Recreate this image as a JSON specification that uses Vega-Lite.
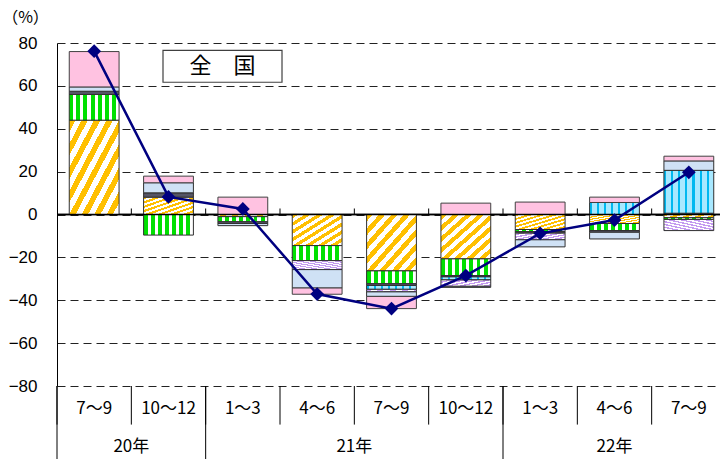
{
 "$schema": "https://vega.github.io/schema/vega-lite/v6.json",
 "autosize": {"type": "none"},
 "padding": {"left": 57, "top": 43, "right": -6, "bottom": 73},
 "width": 669,
 "height": 343,
 "background": "#ffffff",
 "config": {"view": {"stroke": null}},
 "datasets": {
  "bars": [
   {"key": "20年7～9", "s": "s1", "o": 1, "v": 44},
   {"key": "20年7～9", "s": "s2", "o": 2, "v": 12},
   {"key": "20年7～9", "s": "s3", "o": 3, "v": 1.5},
   {"key": "20年7～9", "s": "s6", "o": 6, "v": 2},
   {"key": "20年7～9", "s": "s7", "o": 7, "v": 16.5},
   {"key": "20年10～12", "s": "s1", "o": 1, "v": 8.1},
   {"key": "20年10～12", "s": "s2", "o": 2, "v": -9.6},
   {"key": "20年10～12", "s": "s3", "o": 3, "v": 2},
   {"key": "20年10～12", "s": "s6", "o": 6, "v": 4.7},
   {"key": "20年10～12", "s": "s7", "o": 7, "v": 3.1},
   {"key": "21年1～3", "s": "s1", "o": 1, "v": -1},
   {"key": "21年1～3", "s": "s2", "o": 2, "v": -2.4},
   {"key": "21年1～3", "s": "s3", "o": 3, "v": -0.8},
   {"key": "21年1～3", "s": "s6", "o": 6, "v": -1},
   {"key": "21年1～3", "s": "s7", "o": 7, "v": 8.1},
   {"key": "21年4～6", "s": "s1", "o": 1, "v": -14.5},
   {"key": "21年4～6", "s": "s2", "o": 2, "v": -7},
   {"key": "21年4～6", "s": "s5", "o": 5, "v": -4.2},
   {"key": "21年4～6", "s": "s6", "o": 6, "v": -8.6},
   {"key": "21年4～6", "s": "s7", "o": 7, "v": -2.9},
   {"key": "21年7～9", "s": "s1", "o": 1, "v": -26.3},
   {"key": "21年7～9", "s": "s2", "o": 2, "v": -6},
   {"key": "21年7～9", "s": "s3", "o": 3, "v": -0.8},
   {"key": "21年7～9", "s": "s4", "o": 4, "v": -1.8},
   {"key": "21年7～9", "s": "s5", "o": 5, "v": -1.2},
   {"key": "21年7～9", "s": "s6", "o": 6, "v": -2.1},
   {"key": "21年7～9", "s": "s7", "o": 7, "v": -5.7},
   {"key": "21年10～12", "s": "s1", "o": 1, "v": -20.7},
   {"key": "21年10～12", "s": "s2", "o": 2, "v": -7.8},
   {"key": "21年10～12", "s": "s3", "o": 3, "v": -0.6},
   {"key": "21年10～12", "s": "s4", "o": 4, "v": -1.4},
   {"key": "21年10～12", "s": "s5", "o": 5, "v": -3},
   {"key": "21年10～12", "s": "s6", "o": 6, "v": -0.5},
   {"key": "21年10～12", "s": "s7", "o": 7, "v": 5.3},
   {"key": "22年1～3", "s": "s1", "o": 1, "v": -7},
   {"key": "22年1～3", "s": "s2", "o": 2, "v": -1},
   {"key": "22年1～3", "s": "s3", "o": 3, "v": -0.7},
   {"key": "22年1～3", "s": "s5", "o": 5, "v": -3.1},
   {"key": "22年1～3", "s": "s6", "o": 6, "v": -3.3},
   {"key": "22年1～3", "s": "s7", "o": 7, "v": 5.8},
   {"key": "22年4～6", "s": "s1", "o": 1, "v": -4.2},
   {"key": "22年4～6", "s": "s2", "o": 2, "v": -3.3},
   {"key": "22年4～6", "s": "s3", "o": 3, "v": -0.8},
   {"key": "22年4～6", "s": "s4", "o": 4, "v": 5.6},
   {"key": "22年4～6", "s": "s6", "o": 6, "v": -3.1},
   {"key": "22年4～6", "s": "s7", "o": 7, "v": 2.5},
   {"key": "22年7～9", "s": "s1", "o": 1, "v": -1.5},
   {"key": "22年7～9", "s": "s2", "o": 2, "v": -0.8},
   {"key": "22年7～9", "s": "s3", "o": 3, "v": 0.6},
   {"key": "22年7～9", "s": "s4", "o": 4, "v": 20},
   {"key": "22年7～9", "s": "s5", "o": 5, "v": -5.2},
   {"key": "22年7～9", "s": "s6", "o": 6, "v": 4.4},
   {"key": "22年7～9", "s": "s7", "o": 7, "v": 2.2}
  ],
  "totals": [
   {"key": "20年7～9", "total": 76.2},
   {"key": "20年10～12", "total": 8.2},
   {"key": "21年1～3", "total": 2.6},
   {"key": "21年4～6", "total": -37.1},
   {"key": "21年7～9", "total": -43.9},
   {"key": "21年10～12", "total": -28.5},
   {"key": "22年1～3", "total": -8.8},
   {"key": "22年4～6", "total": -2.6},
   {"key": "22年7～9", "total": 19.7}
  ],
  "cats": [
   {"key": "20年7～9"}, {"key": "20年10～12"}, {"key": "21年1～3"}, {"key": "21年4～6"}, {"key": "21年7～9"},
   {"key": "21年10～12"}, {"key": "22年1～3"}, {"key": "22年4～6"}, {"key": "22年7～9"}
  ],
  "yearStarts": [{"key": "20年7～9"}, {"key": "21年1～3"}, {"key": "22年1～3"}],
  "years": [
   {"year": "20年", "at": "20年10～12", "mid": false},
   {"year": "21年", "at": "21年7～9", "mid": false},
   {"year": "22年", "at": "22年4～6", "mid": true}
  ],
  "box": [{"label": "全　国"}]
 },
 "encoding": {
  "x": {"field": "key", "type": "nominal",
   "scale": {"type": "band", "domain": ["20年7～9","20年10～12","21年1～3","21年4～6","21年7～9","21年10～12","22年1～3","22年4～6","22年7～9"], "paddingInner": 0, "paddingOuter": 0},
   "axis": {"title": null, "domain": false, "ticks": false, "grid": false, "labelAngle": 0,
    "labelExpr": "split(datum.label, '年')[1]", "labelFont": "Noto Sans CJK JP", "labelFontSize": 17, "labelColor": "#000000", "labelPadding": 14}}
 },
 "layer": [
  {
   "data": {"values": [{}]},
   "mark": {"type": "rule", "color": "#000000", "strokeWidth": 1.5},
   "encoding": {
    "x": null,
    "y": {"datum": 0, "type": "quantitative",
     "scale": {"domain": [-80, 80], "nice": false, "zero": false},
     "axis": {"values": [-80,-60,-40,-20,0,20,40,60,80], "grid": true, "gridDash": [8,5], "gridColor": "#222222", "gridOpacity": 1, "gridWidth": 1,
      "domain": true, "domainColor": "#000000", "domainWidth": 1, "ticks": false,
      "labelFont": "Liberation Sans", "labelFontSize": 17, "labelColor": "#000000", "labelPadding": 20,
      "title": "（%）", "titleAngle": 0, "titleFont": "Noto Sans CJK JP", "titleFontSize": 16, "titleFontWeight": "normal", "titleColor": "#000000",
      "titleX": -32, "titleY": -26, "titleAlign": "center", "titleBaseline": "middle"}}
   }
  },
  {
   "data": {"name": "bars"},
   "transform": [{"stack": "v", "groupby": ["key"], "sort": [{"field": "o", "order": "ascending"}], "as": ["v0", "v1"]}],
   "encoding": {
    "y": {"field": "v0", "type": "quantitative"},
    "y2": {"field": "v1"}
   },
   "layer": [
    {"transform": [{"filter": "datum.s === 's1'"}],
     "mark": {"type": "bar", "width": {"band": 0.67}, "stroke": "#303030", "strokeWidth": 1,
      "fill": {"gradient": "linear", "x1": 0, "y1": 0, "x2": 1, "y2": 1, "stops": [
       {"offset": 0, "color": "#FFC000"}, {"offset": 0.0625, "color": "#FFC000"}, {"offset": 0.0625, "color": "#FFFFFF"}, {"offset": 0.125, "color": "#FFFFFF"},
       {"offset": 0.125, "color": "#FFC000"}, {"offset": 0.1875, "color": "#FFC000"}, {"offset": 0.1875, "color": "#FFFFFF"}, {"offset": 0.25, "color": "#FFFFFF"},
       {"offset": 0.25, "color": "#FFC000"}, {"offset": 0.3125, "color": "#FFC000"}, {"offset": 0.3125, "color": "#FFFFFF"}, {"offset": 0.375, "color": "#FFFFFF"},
       {"offset": 0.375, "color": "#FFC000"}, {"offset": 0.4375, "color": "#FFC000"}, {"offset": 0.4375, "color": "#FFFFFF"}, {"offset": 0.5, "color": "#FFFFFF"},
       {"offset": 0.5, "color": "#FFC000"}, {"offset": 0.5625, "color": "#FFC000"}, {"offset": 0.5625, "color": "#FFFFFF"}, {"offset": 0.625, "color": "#FFFFFF"},
       {"offset": 0.625, "color": "#FFC000"}, {"offset": 0.6875, "color": "#FFC000"}, {"offset": 0.6875, "color": "#FFFFFF"}, {"offset": 0.75, "color": "#FFFFFF"},
       {"offset": 0.75, "color": "#FFC000"}, {"offset": 0.8125, "color": "#FFC000"}, {"offset": 0.8125, "color": "#FFFFFF"}, {"offset": 0.875, "color": "#FFFFFF"},
       {"offset": 0.875, "color": "#FFC000"}, {"offset": 0.9375, "color": "#FFC000"}, {"offset": 0.9375, "color": "#FFFFFF"}, {"offset": 1, "color": "#FFFFFF"}]}}},
    {"transform": [{"filter": "datum.s === 's2'"}],
     "mark": {"type": "bar", "width": {"band": 0.67}, "stroke": "#303030", "strokeWidth": 1,
      "fill": {"gradient": "linear", "x1": 0, "y1": 0, "x2": 1, "y2": 0, "stops": [
       {"offset": 0, "color": "#00E000"}, {"offset": 0.0786, "color": "#00E000"}, {"offset": 0.0786, "color": "#FFFFFF"}, {"offset": 0.1429, "color": "#FFFFFF"},
       {"offset": 0.1429, "color": "#00E000"}, {"offset": 0.2214, "color": "#00E000"}, {"offset": 0.2214, "color": "#FFFFFF"}, {"offset": 0.2857, "color": "#FFFFFF"},
       {"offset": 0.2857, "color": "#00E000"}, {"offset": 0.3643, "color": "#00E000"}, {"offset": 0.3643, "color": "#FFFFFF"}, {"offset": 0.4286, "color": "#FFFFFF"},
       {"offset": 0.4286, "color": "#00E000"}, {"offset": 0.5071, "color": "#00E000"}, {"offset": 0.5071, "color": "#FFFFFF"}, {"offset": 0.5714, "color": "#FFFFFF"},
       {"offset": 0.5714, "color": "#00E000"}, {"offset": 0.65, "color": "#00E000"}, {"offset": 0.65, "color": "#FFFFFF"}, {"offset": 0.7143, "color": "#FFFFFF"},
       {"offset": 0.7143, "color": "#00E000"}, {"offset": 0.7929, "color": "#00E000"}, {"offset": 0.7929, "color": "#FFFFFF"}, {"offset": 0.8571, "color": "#FFFFFF"},
       {"offset": 0.8571, "color": "#00E000"}, {"offset": 0.9357, "color": "#00E000"}, {"offset": 0.9357, "color": "#FFFFFF"}, {"offset": 1, "color": "#FFFFFF"}]}}},
    {"transform": [{"filter": "datum.s === 's3'"}],
     "mark": {"type": "bar", "width": {"band": 0.67}, "stroke": "#303030", "strokeWidth": 1, "fill": "#555566"}},
    {"transform": [{"filter": "datum.s === 's4'"}],
     "mark": {"type": "bar", "width": {"band": 0.67}, "stroke": "#303030", "strokeWidth": 1,
      "fill": {"gradient": "linear", "x1": 0, "y1": 0, "x2": 1, "y2": 0, "stops": [
       {"offset": 0, "color": "#00B8F0"}, {"offset": 0.0429, "color": "#00B8F0"}, {"offset": 0.0429, "color": "#A8E8FF"}, {"offset": 0.1429, "color": "#A8E8FF"},
       {"offset": 0.1429, "color": "#00B8F0"}, {"offset": 0.1857, "color": "#00B8F0"}, {"offset": 0.1857, "color": "#A8E8FF"}, {"offset": 0.2857, "color": "#A8E8FF"},
       {"offset": 0.2857, "color": "#00B8F0"}, {"offset": 0.3286, "color": "#00B8F0"}, {"offset": 0.3286, "color": "#A8E8FF"}, {"offset": 0.4286, "color": "#A8E8FF"},
       {"offset": 0.4286, "color": "#00B8F0"}, {"offset": 0.4714, "color": "#00B8F0"}, {"offset": 0.4714, "color": "#A8E8FF"}, {"offset": 0.5714, "color": "#A8E8FF"},
       {"offset": 0.5714, "color": "#00B8F0"}, {"offset": 0.6143, "color": "#00B8F0"}, {"offset": 0.6143, "color": "#A8E8FF"}, {"offset": 0.7143, "color": "#A8E8FF"},
       {"offset": 0.7143, "color": "#00B8F0"}, {"offset": 0.7571, "color": "#00B8F0"}, {"offset": 0.7571, "color": "#A8E8FF"}, {"offset": 0.8571, "color": "#A8E8FF"},
       {"offset": 0.8571, "color": "#00B8F0"}, {"offset": 0.9, "color": "#00B8F0"}, {"offset": 0.9, "color": "#A8E8FF"}, {"offset": 1, "color": "#A8E8FF"}]}}},
    {"transform": [{"filter": "datum.s === 's5'"}],
     "mark": {"type": "bar", "width": {"band": 0.67}, "stroke": "#303030", "strokeWidth": 1,
      "fill": {"gradient": "linear", "x1": 0, "y1": 1, "x2": 1, "y2": 0, "stops": [
       {"offset": 0, "color": "#C49AF0"}, {"offset": 0.0625, "color": "#C49AF0"}, {"offset": 0.0625, "color": "#FFFFFF"}, {"offset": 0.125, "color": "#FFFFFF"},
       {"offset": 0.125, "color": "#C49AF0"}, {"offset": 0.1875, "color": "#C49AF0"}, {"offset": 0.1875, "color": "#FFFFFF"}, {"offset": 0.25, "color": "#FFFFFF"},
       {"offset": 0.25, "color": "#C49AF0"}, {"offset": 0.3125, "color": "#C49AF0"}, {"offset": 0.3125, "color": "#FFFFFF"}, {"offset": 0.375, "color": "#FFFFFF"},
       {"offset": 0.375, "color": "#C49AF0"}, {"offset": 0.4375, "color": "#C49AF0"}, {"offset": 0.4375, "color": "#FFFFFF"}, {"offset": 0.5, "color": "#FFFFFF"},
       {"offset": 0.5, "color": "#C49AF0"}, {"offset": 0.5625, "color": "#C49AF0"}, {"offset": 0.5625, "color": "#FFFFFF"}, {"offset": 0.625, "color": "#FFFFFF"},
       {"offset": 0.625, "color": "#C49AF0"}, {"offset": 0.6875, "color": "#C49AF0"}, {"offset": 0.6875, "color": "#FFFFFF"}, {"offset": 0.75, "color": "#FFFFFF"},
       {"offset": 0.75, "color": "#C49AF0"}, {"offset": 0.8125, "color": "#C49AF0"}, {"offset": 0.8125, "color": "#FFFFFF"}, {"offset": 0.875, "color": "#FFFFFF"},
       {"offset": 0.875, "color": "#C49AF0"}, {"offset": 0.9375, "color": "#C49AF0"}, {"offset": 0.9375, "color": "#FFFFFF"}, {"offset": 1, "color": "#FFFFFF"}]}}},
    {"transform": [{"filter": "datum.s === 's6'"}],
     "mark": {"type": "bar", "width": {"band": 0.67}, "stroke": "#303030", "strokeWidth": 1, "fill": "#CFE1F5"}},
    {"transform": [{"filter": "datum.s === 's7'"}],
     "mark": {"type": "bar", "width": {"band": 0.67}, "stroke": "#404040", "strokeWidth": 1, "fill": "#FFC2E1"}}
   ]
  },
  {
   "data": {"values": [{}]},
   "mark": {"type": "rule", "color": "#000000", "strokeWidth": 1.5},
   "encoding": {"x": null, "y": {"datum": 0, "type": "quantitative"}}
  },
  {
   "data": {"name": "cats"},
   "transform": [{"filter": "datum.key !== '20年7～9'"}],
   "mark": {"type": "rule", "color": "#000000", "strokeWidth": 1},
   "encoding": {
    "x": {"field": "key", "type": "nominal", "bandPosition": 0},
    "y": {"datum": 0, "type": "quantitative"},
    "y2": {"datum": 2.8}
   }
  },
  {
   "data": {"name": "cats"},
   "mark": {"type": "rule", "color": "#000000", "strokeWidth": 1},
   "encoding": {
    "x": {"field": "key", "type": "nominal", "bandPosition": 0},
    "y": {"datum": -80, "type": "quantitative"},
    "y2": {"datum": -98}
   }
  },
  {
   "data": {"name": "yearStarts"},
   "mark": {"type": "rule", "color": "#000000", "strokeWidth": 1},
   "encoding": {
    "x": {"field": "key", "type": "nominal", "bandPosition": 0},
    "y": {"datum": -80, "type": "quantitative"},
    "y2": {"datum": -117}
   }
  },
  {
   "data": {"name": "years"},
   "transform": [{"filter": "!datum.mid"}],
   "mark": {"type": "text", "font": "Noto Sans CJK JP", "fontSize": 17, "color": "#000000", "baseline": "middle", "align": "center"},
   "encoding": {
    "x": {"field": "at", "type": "nominal", "bandPosition": 0},
    "y": {"datum": -108.5, "type": "quantitative"},
    "text": {"field": "year"}
   }
  },
  {
   "data": {"name": "years"},
   "transform": [{"filter": "datum.mid"}],
   "mark": {"type": "text", "font": "Noto Sans CJK JP", "fontSize": 17, "color": "#000000", "baseline": "middle", "align": "center"},
   "encoding": {
    "x": {"field": "at", "type": "nominal", "bandPosition": 0.5},
    "y": {"datum": -108.5, "type": "quantitative"},
    "text": {"field": "year"}
   }
  },
  {
   "data": {"name": "totals"},
   "mark": {"type": "line", "color": "#000080", "strokeWidth": 2.5},
   "encoding": {
    "y": {"field": "total", "type": "quantitative"}
   }
  },
  {
   "data": {"name": "totals"},
   "mark": {"type": "point", "shape": "diamond", "filled": true, "size": 190, "color": "#000080", "opacity": 1},
   "encoding": {
    "y": {"field": "total", "type": "quantitative"}
   }
  },
  {
   "data": {"name": "box"},
   "mark": {"type": "rect", "fill": "#FFFFFF", "stroke": "#404040", "strokeWidth": 1.2},
   "encoding": {
    "x": {"datum": "21年4～6", "type": "nominal", "bandPosition": 0.027},
    "x2": {"datum": "20年10～12", "bandPosition": 0.426},
    "y": {"datum": 76.6, "type": "quantitative"},
    "y2": {"datum": 61.7}
   }
  },
  {
   "data": {"name": "box"},
   "mark": {"type": "text", "font": "Noto Sans CJK JP", "fontSize": 22, "color": "#000000", "align": "center", "baseline": "middle"},
   "encoding": {
    "x": {"datum": "21年1～3", "type": "nominal", "bandPosition": 0.225},
    "y": {"datum": 69.2, "type": "quantitative"},
    "text": {"field": "label"}
   }
  }
 ]
}
